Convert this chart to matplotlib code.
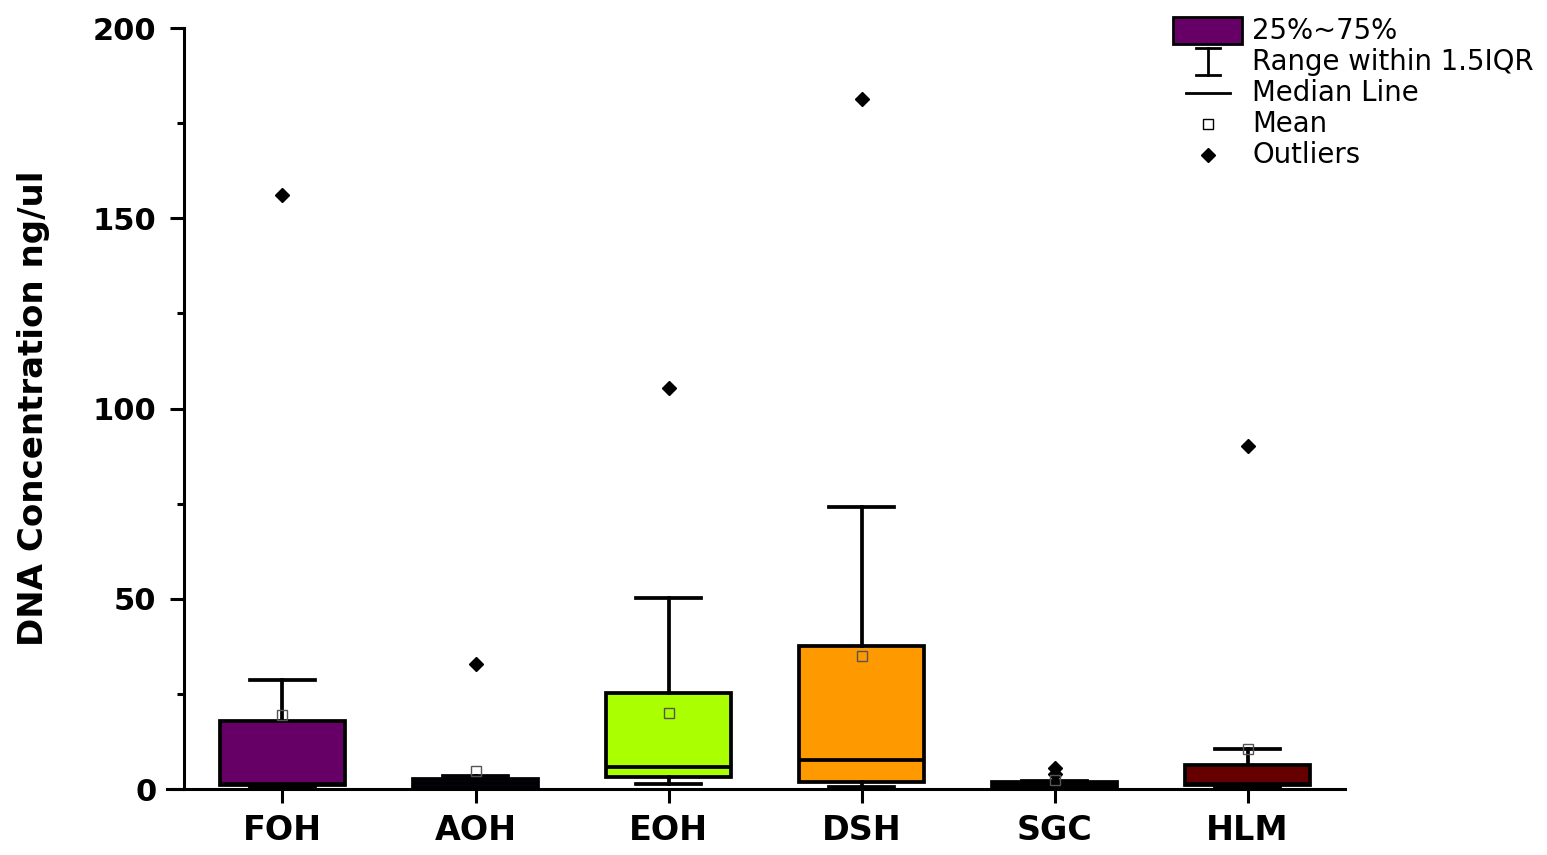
import matplotlib
matplotlib.use('Agg')
import matplotlib.pyplot as plt
from matplotlib.patches import Rectangle
from matplotlib.ticker import MultipleLocator

plt.rcParams['font.family'] = ['DejaVu Sans']

# values (ng/ul)
groups = ['FOH', 'AOH', 'EOH', 'DSH', 'SGC', 'HLM']
q1 = [1.0, 0.45, 3.1, 1.9, 0.1, 1.0]
median = [1.4, 1.6, 5.7, 7.6, 0.8, 1.4]
q3 = [18.0, 2.5, 25.3, 37.6, 1.9, 6.3]
whisk_lo = [0.6, 0.2, 1.3, 0.4, 0.05, 0.5]
whisk_hi = [28.6, 3.4, 50.2, 74.1, 2.2, 10.4]
means = [19.4, 4.8, 20.0, 35.0, 2.4, 10.6]
outliers = [[156.1], [32.9], [105.4], [181.3], [3.9, 5.4], [90.1]]
colors = ['#660066', '#18187a', '#aaff00', '#ff9900', '#050505', '#660000']

stats = []
for i, g in enumerate(groups):
    stats.append(dict(label=g, q1=q1[i], med=median[i], q3=q3[i],
                      whislo=whisk_lo[i], whishi=whisk_hi[i],
                      mean=means[i], fliers=outliers[i]))

fig = plt.figure(figsize=(15.47, 8.55), dpi=100)
ax = fig.add_axes([0.10795, 0.07719, 0.76148, 0.89006])

lw = 2.7
pos = list(range(1, len(groups) + 1))
bp = ax.bxp(stats, positions=pos, widths=0.65, capwidths=0.34,
            patch_artist=True, showmeans=True,
            boxprops=dict(edgecolor='black', linewidth=lw),
            whiskerprops=dict(color='black', linewidth=lw),
            capprops=dict(color='black', linewidth=lw),
            medianprops=dict(color='black', linewidth=lw),
            meanprops=dict(marker='s', markerfacecolor='none',
                           markeredgecolor='#555555', markersize=6.5,
                           markeredgewidth=1),
            flierprops=dict(marker='D', markerfacecolor='black',
                            markeredgecolor='black', markersize=7))
for patch, c in zip(bp['boxes'], colors):
    patch.set_facecolor(c)

ax.set_xlim(0.4016, 6.505)
ax.set_ylim(0, 200)
ax.spines['top'].set_visible(False)
ax.spines['right'].set_visible(False)
ax.spines['left'].set_position(('data', 0.49))
ax.spines['left'].set_linewidth(2.2)
ax.spines['bottom'].set_linewidth(2.2)

ax.yaxis.set_major_locator(MultipleLocator(50))
ax.yaxis.set_minor_locator(MultipleLocator(25))
ax.tick_params(axis='y', which='major', direction='out', length=10, width=2.2,
               pad=10, labelsize=22)
ax.tick_params(axis='y', which='minor', direction='out', length=5, width=2.2)
ax.tick_params(axis='x', direction='out', length=10, width=2.2, pad=8,
               labelsize=24)
for lab in ax.get_xticklabels() + ax.get_yticklabels():
    lab.set_fontweight('bold')

ax.set_ylabel('DNA Concentration ng/ul', fontsize=24.5, fontweight='bold')
ax.yaxis.set_label_coords(-0.0993, 0.5)

# legend drawn in pixel coordinates of the figure
lax = fig.add_axes([0, 0, 1, 1], zorder=5)
lax.set_xlim(0, 1547)
lax.set_ylim(855, 0)
lax.axis('off')
lax.patch.set_alpha(0)

tx = 1252
rows = [31, 62, 93, 124, 155]
lax.add_patch(Rectangle((1173, 17), 69, 27, facecolor=colors[0],
                        edgecolor='black', linewidth=2))
lax.plot([1208, 1208], [48, 75], color='black', lw=2)
lax.plot([1196, 1220], [48, 48], color='black', lw=2)
lax.plot([1196, 1220], [75, 75], color='black', lw=2)
lax.plot([1186, 1230], [93, 93], color='black', lw=2)
lax.plot([1208], [124], marker='s', mfc='white', mec='black', ms=6.5, mew=1)
lax.plot([1208], [155], marker='D', mfc='black', mec='black', ms=7)
labels = ['25%~75%', 'Range within 1.5IQR', 'Median Line', 'Mean', 'Outliers']
for y, t in zip(rows, labels):
    lax.text(tx, y, t, fontsize=19.8, va='center', ha='left')

fig.savefig('out.png', dpi=100)
